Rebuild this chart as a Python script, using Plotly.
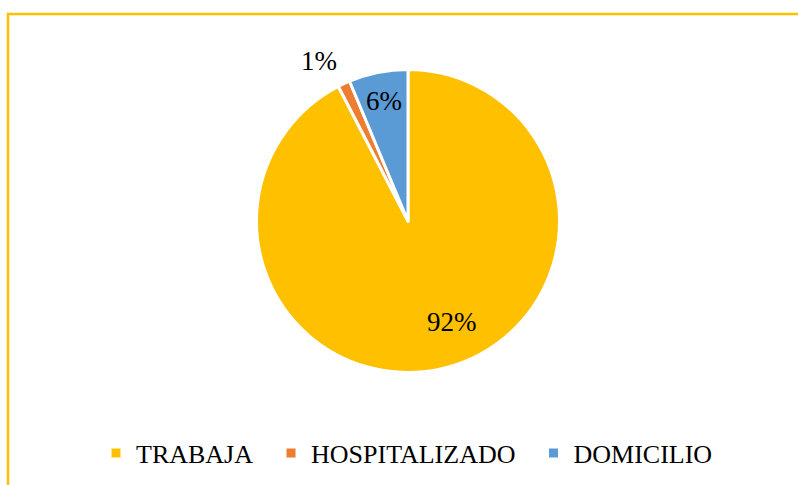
import math
import plotly.graph_objects as go

categories = ["TRABAJA", "HOSPITALIZADO", "DOMICILIO"]
values = [92.4, 1.3, 6.3]
colors = ["#FFC000", "#ED7D31", "#5B9BD5"]

W, H = 798, 485
cx, cy, r = 408, 221, 151.5
FONT = "Liberation Serif"

legend_names = [categories[0] + "\u00a0\u00a0", categories[1] + "\u00a0\u00a0", categories[2]]

fig = go.Figure(go.Pie(
    labels=legend_names,
    values=values,
    sort=False,
    direction="clockwise",
    rotation=0,
    marker=dict(colors=colors, line=dict(color="white", width=3)),
    textinfo="none",
    domain=dict(x=[(cx - r) / W, (cx + r) / W], y=[1 - (cy + r) / H, 1 - (cy - r) / H]),
    hoverinfo="label+percent",
))

# percentage labels placed along each slice's mid-angle
total = sum(values)
radial = [0.73, 1.21, 0.81]
ang_off = [-10, -4, 0]
cum = 0.0
for v, rf, ao in zip(values, radial, ang_off):
    mid = (cum + v / 2) / total * 360 + ao
    cum += v
    a = math.radians(mid)
    px = cx + math.sin(a) * r * rf
    py = cy - math.cos(a) * r * rf
    fig.add_annotation(x=px / W, y=1 - py / H, xref="paper", yref="paper",
                       text=f"{round(v / total * 100)}%", showarrow=False,
                       font=dict(family=FONT, size=27, color="black"),
                       xanchor="center", yanchor="middle")

fig.add_shape(type="rect", xref="paper", yref="paper",
              x0=8 / W, x1=1.02, y0=-0.02, y1=1 - 14 / H,
              line=dict(color="#FFC000", width=2.5), fillcolor="rgba(0,0,0,0)")

fig.update_layout(
    width=W, height=H,
    margin=dict(l=0, r=0, t=0, b=0),
    paper_bgcolor="white",
    plot_bgcolor="white",
    font=dict(family=FONT, size=26, color="black"),
    legend=dict(orientation="h", x=0.5 + 8 / W, xanchor="center", y=1 - 453 / H, yanchor="middle",
                font=dict(family=FONT, size=26, color="black")),
)

fig.write_html("out.html")
